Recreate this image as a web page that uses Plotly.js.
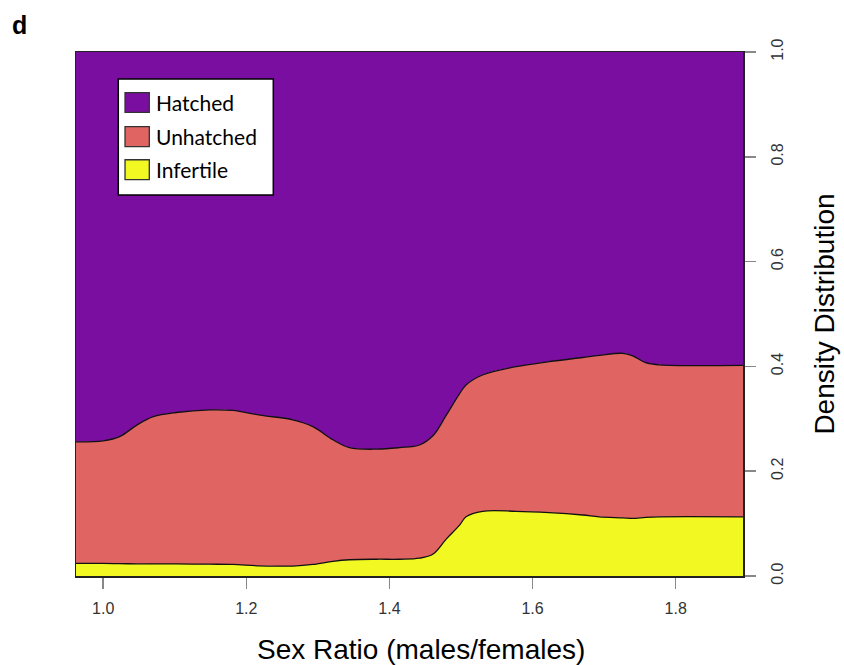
<!DOCTYPE html>
<html>
<head>
<meta charset="utf-8">
<script src="https://cdn.plot.ly/plotly-3.0.1.min.js"></script>
<style>html,body{margin:0;padding:0;background:#fff;}#chart{width:844px;height:665px;}</style>
</head>
<body>
<div id="chart"></div>
<script>
// Sex ratio (x) sample points
const sexRatio = [0.962, 1.0, 1.023, 1.047, 1.07, 1.102, 1.149, 1.181, 1.219, 1.265, 1.293, 1.321, 1.344, 1.382, 1.414, 1.442, 1.461, 1.479, 1.498, 1.507, 1.53, 1.577, 1.623, 1.67, 1.693, 1.726, 1.74, 1.758, 1.777, 1.894];
// Cumulative density: top of Infertile band
const infertileTop = [0.024, 0.024, 0.0235, 0.0233, 0.023, 0.023, 0.0225, 0.022, 0.0195, 0.019, 0.022, 0.028, 0.031, 0.032, 0.032, 0.034, 0.042, 0.07, 0.097, 0.113, 0.1235, 0.1235, 0.121, 0.1164, 0.113, 0.111, 0.11, 0.112, 0.113, 0.113];
// Cumulative density: top of Unhatched band
const unhatchedTop = [0.256, 0.258, 0.266, 0.288, 0.304, 0.312, 0.317, 0.316, 0.307, 0.298, 0.285, 0.26, 0.245, 0.242, 0.245, 0.25, 0.268, 0.306, 0.348, 0.3645, 0.3836, 0.3995, 0.409, 0.417, 0.421, 0.425, 0.42, 0.407, 0.403, 0.402];
// Cumulative density: top of Hatched band
const hatchedTop = sexRatio.map(() => 1);

const categories = ['Hatched', 'Unhatched', 'Infertile'];
const colors = {Hatched: '#7a0ea1', Unhatched: '#e06462', Infertile: '#f2f821'};
const xTicks = [1.0, 1.2, 1.4, 1.6, 1.8];
const xTickText = ['1.0', '1.2', '1.4', '1.6', '1.8'];
const yTicks = [0.0, 0.2, 0.4, 0.6, 0.8, 1.0];
const yTickText = ['0.0', '0.2', '0.4', '0.6', '0.8', '1.0'];

const lineSpec = {color: '#111', width: 1.3, shape: 'spline', smoothing: 1.0};
const traces = [
  {x: sexRatio, y: infertileTop, name: 'Infertile', type: 'scatter', mode: 'lines', fill: 'tozeroy', fillcolor: colors.Infertile, line: lineSpec, showlegend: false, hoverinfo: 'skip'},
  {x: sexRatio, y: unhatchedTop, name: 'Unhatched', type: 'scatter', mode: 'lines', fill: 'tonexty', fillcolor: colors.Unhatched, line: lineSpec, showlegend: false, hoverinfo: 'skip'},
  {x: sexRatio, y: hatchedTop, name: 'Hatched', type: 'scatter', mode: 'lines', fill: 'tonexty', fillcolor: colors.Hatched, line: {color: colors.Hatched, width: 0}, showlegend: false, hoverinfo: 'skip'}
];

// legend (drawn in paper coordinates)
const legX0 = 0.0634, legX1 = 0.2958, legY0 = 0.7271, legY1 = 0.9485;
const sqX0 = 0.0735, sqX1 = 0.1099, sqH = 0.038;
const rowY = [0.9036, 0.8384, 0.7754];
const shapes = [{type: 'rect', xref: 'paper', yref: 'paper', x0: legX0, x1: legX1, y0: legY0, y1: legY1, fillcolor: '#fff', line: {color: '#000', width: 1.5}, layer: 'above'}];
const annotations = [];
categories.forEach((c, i) => {
  shapes.push({type: 'rect', xref: 'paper', yref: 'paper', x0: sqX0, x1: sqX1, y0: rowY[i] - sqH / 2, y1: rowY[i] + sqH / 2, fillcolor: colors[c], line: {color: '#333', width: 1.3}, layer: 'above'});
  annotations.push({xref: 'paper', yref: 'paper', x: 0.1165, y: rowY[i], xanchor: 'left', yanchor: 'middle', text: c, showarrow: false, font: {family: 'Lato, Open Sans, sans-serif', size: 21, color: '#000'}});
});
annotations.push({xref: 'paper', yref: 'paper', x: -0.084, y: 1.0515, xanchor: 'center', yanchor: 'middle', text: '<b>d</b>', showarrow: false, font: {family: 'Liberation Sans, Arial, sans-serif', size: 25, color: '#000'}});
// x-axis title (placed as in the original figure)
annotations.push({xref: 'paper', yref: 'paper', x: 0.5172, y: -0.1412, xanchor: 'center', yanchor: 'middle', text: 'Sex Ratio (males/females)', showarrow: false, font: {family: 'Liberation Sans, Arial, sans-serif', size: 28, color: '#000'}});

const layout = {
  width: 844, height: 665,
  margin: {l: 76, r: 101, t: 52, b: 89, pad: 0},
  paper_bgcolor: '#fff', plot_bgcolor: '#fff',
  font: {family: 'Liberation Sans, Arial, sans-serif', color: '#000'},
  showlegend: false,
  xaxis: {
    range: [0.962, 1.894], tickvals: xTicks, ticktext: xTickText,
    ticks: 'outside', ticklen: 11, tickwidth: 1.5, tickcolor: '#888',
    tickfont: {size: 16, color: '#333'}, ticklabelstandoff: 6,
    showgrid: false, zeroline: false,
    showline: true, mirror: true, linecolor: '#222', linewidth: 1.5
  },
  yaxis: {
    range: [0, 1], side: 'right', tickvals: yTicks, ticktext: yTickText,
    ticks: 'outside', ticklen: 11, tickwidth: 1.5, tickcolor: '#888',
    tickfont: {size: 16, color: '#333'}, tickangle: -90, ticklabelstandoff: 8,
    showgrid: false, zeroline: false,
    showline: true, mirror: true, linecolor: '#222', linewidth: 1.5,
    title: {text: 'Density Distribution', font: {size: 28, color: '#000'}, standoff: 29}
  },
  shapes: shapes,
  annotations: annotations
};

Plotly.newPlot('chart', traces, layout, {displayModeBar: false, staticPlot: true});
</script>
</body>
</html>
